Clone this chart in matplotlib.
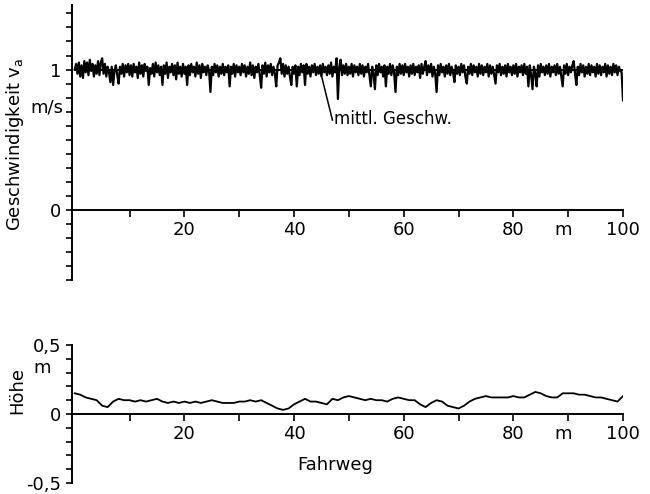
import numpy as np
import matplotlib
matplotlib.use('Agg')
import matplotlib.pyplot as plt

plt.rcParams['font.family'] = 'DejaVu Sans'
plt.rcParams['font.size'] = 13

# Fahrgeschwindigkeit v_a ueber dem Fahrweg (alle 0,25 m, eine Zeile = 10 m)
weg_v = np.arange(0, 100.25, 0.25)
v_a = [
    1.00, 1.04, 0.97, 1.05, 0.95, 1.03, 0.94, 1.06, 0.98, 1.05, 0.96, 1.07, 0.99, 1.04, 0.95, 1.03, 0.97, 1.06, 0.96, 1.05,
    1.08, 0.97, 1.04, 0.95, 1.02, 0.98, 0.91, 1.02, 0.89, 0.99, 1.03, 0.96, 0.90, 1.02, 0.97, 1.04, 0.95, 1.03, 0.98, 1.04,
    0.96, 1.03, 0.95, 1.04, 0.98, 1.02, 0.94, 1.05, 0.97, 1.03, 0.95, 1.04, 0.99, 1.02, 0.89, 1.01, 0.97, 1.04, 0.95, 1.05,
    0.98, 1.03, 0.96, 1.02, 0.89, 1.03, 0.97, 1.05, 0.94, 1.02, 0.98, 1.04, 0.96, 1.03, 0.93, 1.05, 0.97, 1.02, 0.95, 1.04,
    0.97, 1.02, 0.89, 1.03, 0.96, 1.04, 0.98, 1.02, 0.95, 1.05, 0.97, 1.03, 0.94, 1.04, 0.98, 1.02, 0.96, 1.03, 0.99, 0.84,
    1.02, 0.96, 1.04, 0.98, 1.03, 0.95, 1.02, 0.97, 1.04, 0.96, 1.02, 0.98, 1.03, 0.88, 1.02, 0.97, 1.04, 0.95, 1.03, 0.98,
    1.02, 0.96, 1.04, 0.98, 1.03, 0.95, 1.02, 0.97, 1.05, 0.96, 1.03, 0.94, 1.02, 0.98, 1.04, 0.96, 0.87, 1.03, 0.97, 1.05,
    0.95, 1.03, 0.98, 1.04, 0.96, 1.02, 0.97, 0.88, 1.03, 1.05, 1.08, 0.97, 1.04, 0.95, 1.03, 0.97, 1.02, 0.95, 0.89, 1.02,
    0.97, 1.03, 0.88, 1.02, 0.96, 1.04, 0.98, 1.03, 0.89, 1.04, 0.97, 1.02, 0.95, 1.03, 0.98, 1.04, 0.96, 1.02, 0.97, 1.03,
    0.95, 1.04, 0.98, 1.02, 0.96, 1.03, 0.97, 1.05, 0.95, 1.02, 0.98, 1.08, 0.79, 1.02, 1.07, 0.96, 1.03, 0.97, 1.04, 0.96,
    1.02, 0.97, 1.04, 0.95, 1.03, 0.98, 1.02, 0.96, 1.04, 0.97, 1.03, 0.95, 1.02, 0.98, 1.04, 0.96, 0.88, 1.02, 0.97, 0.86,
    1.03, 0.96, 1.04, 0.98, 1.02, 0.95, 1.03, 0.88, 1.02, 0.97, 1.04, 0.96, 1.03, 0.98, 0.84, 1.02, 0.96, 1.04, 0.97, 1.03,
    0.96, 1.04, 0.98, 1.02, 0.95, 1.03, 0.97, 1.04, 0.96, 1.02, 0.98, 1.03, 0.94, 1.04, 0.97, 1.02, 1.06, 0.96, 1.03, 0.98,
    1.04, 0.95, 1.02, 0.97, 0.84, 1.03, 0.96, 1.04, 0.98, 1.02, 0.95, 1.03, 0.97, 1.04, 0.96, 1.02, 0.98, 0.91, 1.03, 0.97,
    1.02, 0.96, 1.04, 0.98, 1.03, 0.95, 0.90, 1.02, 0.97, 1.04, 0.96, 1.03, 0.98, 1.02, 0.95, 1.04, 0.97, 1.03, 0.96, 1.02,
    0.98, 1.04, 0.95, 1.03, 0.97, 1.02, 0.96, 0.90, 1.03, 0.98, 1.04, 0.96, 1.02, 0.97, 1.03, 0.95, 1.04, 0.98, 1.02, 0.96,
    1.03, 0.97, 1.04, 0.95, 1.02, 0.98, 1.03, 0.96, 1.04, 0.97, 1.02, 0.88, 1.03, 0.96, 0.86, 1.02, 0.97, 0.88, 1.03, 0.95,
    1.04, 0.98, 1.02, 0.96, 1.03, 0.97, 1.04, 0.95, 1.02, 0.98, 1.03, 0.96, 1.04, 0.97, 1.02, 0.95, 0.88, 1.03, 0.97, 1.04,
    0.96, 1.02, 0.98, 1.03, 1.06, 0.97, 0.89, 1.02, 0.96, 1.04, 0.98, 1.03, 0.95, 1.02, 0.97, 1.04, 0.96, 1.03, 0.98, 1.02,
    0.95, 1.04, 0.97, 1.03, 0.96, 1.02, 0.98, 1.04, 0.95, 1.03, 0.97, 1.02, 0.96, 1.04, 0.98, 1.03, 0.96, 1.02, 0.99, 0.98,
    0.78,
]
v_mittel = 1.0

# Hoehenprofil ueber dem Fahrweg (alle 1 m)
weg_h = np.arange(0, 101, 1)
hoehe = [
    0.15, 0.14, 0.12, 0.11, 0.10, 0.06, 0.05, 0.09, 0.11, 0.10,
    0.10, 0.09, 0.10, 0.09, 0.10, 0.11, 0.09, 0.08, 0.09, 0.08,
    0.09, 0.08, 0.09, 0.08, 0.09, 0.10, 0.09, 0.08, 0.08, 0.08,
    0.09, 0.09, 0.10, 0.09, 0.10, 0.08, 0.06, 0.04, 0.03, 0.04,
    0.07, 0.09, 0.11, 0.09, 0.09, 0.08, 0.07, 0.11, 0.10, 0.12,
    0.13, 0.12, 0.11, 0.10, 0.11, 0.10, 0.10, 0.09, 0.11, 0.12,
    0.11, 0.10, 0.10, 0.07, 0.05, 0.08, 0.10, 0.09, 0.06, 0.05,
    0.04, 0.06, 0.09, 0.11, 0.12, 0.13, 0.12, 0.12, 0.12, 0.12,
    0.13, 0.12, 0.12, 0.14, 0.16, 0.15, 0.13, 0.12, 0.12, 0.15,
    0.15, 0.15, 0.14, 0.14, 0.13, 0.12, 0.12, 0.11, 0.10, 0.09,
    0.13,
]

x_ticks = np.arange(10, 101, 10)
x_labels = ['', '20', '', '40', '', '60', '', '80', '', '100']

fig = plt.figure(figsize=(6.5, 4.94), dpi=100)
ax1 = fig.add_axes([72/650, 1 - 280/494, 551/650, 275/494])
ax2 = fig.add_axes([72/650, 1 - 483/494, 551/650, 138/494])

for ax in (ax1, ax2):
    ax.set_xlim(-0.5, 100)
    ax.spines['top'].set_visible(False)
    ax.spines['right'].set_visible(False)
    ax.spines['bottom'].set_position(('data', 0))
    ax.spines['left'].set_linewidth(1.4)
    ax.spines['bottom'].set_linewidth(1.4)
    ax.set_xticks(x_ticks)
    ax.set_xticklabels(x_labels)
    ax.tick_params(axis='x', direction='out', length=5, width=1.2, pad=3)
    ax.tick_params(axis='y', direction='out', length=4, width=1.2, pad=4)
    ax.annotate('m', xy=(89, 0), xytext=(0, -8), textcoords='offset points',
                ha='center', va='top')

# oben: Geschwindigkeit
ax1.set_ylim(-0.5, 1.46)
yt1 = np.round(np.arange(-0.5, 1.45, 0.1), 1)
ax1.set_yticks(yt1)
ax1.set_yticklabels(['1' if t == 1 else '0' if t == 0 else '' for t in yt1])
ax1.plot(weg_v, v_a, color='black', lw=1.6)
ax1.plot([0, 100], [v_mittel, v_mittel], color='black', lw=1.4)
ax1.plot([45.1, 47.0], [0.94, 0.64], color='black', lw=1.1)
ax1.text(47.2, 0.65, 'mittl. Geschw.', ha='left', va='center', fontsize=12)

# unten: Hoehe
ax2.set_ylim(-0.5, 0.5)
yt2 = np.round(np.arange(-0.5, 0.51, 0.1), 1)
ax2.set_yticks(yt2)
lab2 = {0.5: '0,5', 0.0: '0', -0.5: '-0,5'}
ax2.set_yticklabels([lab2.get(t, '') for t in yt2])
ax2.plot(weg_h, hoehe, color='black', lw=1.3)

fig.text(15/650, 1 - 144/494, 'Geschwindigkeit $\\mathrm{v}_\\mathrm{a}$', rotation=90,
         ha='center', va='center')
fig.text(63/650, 1 - 107/494, 'm/s', ha='right', va='center')
fig.text(17/650, 1 - 390/494, 'Höhe', rotation=90, ha='center', va='center')
fig.text(42/650, 1 - 368/494, 'm', ha='center', va='center')
fig.text(335/650, 1 - 465/494, 'Fahrweg', ha='center', va='center')

fig.savefig('out.png', dpi=100)
